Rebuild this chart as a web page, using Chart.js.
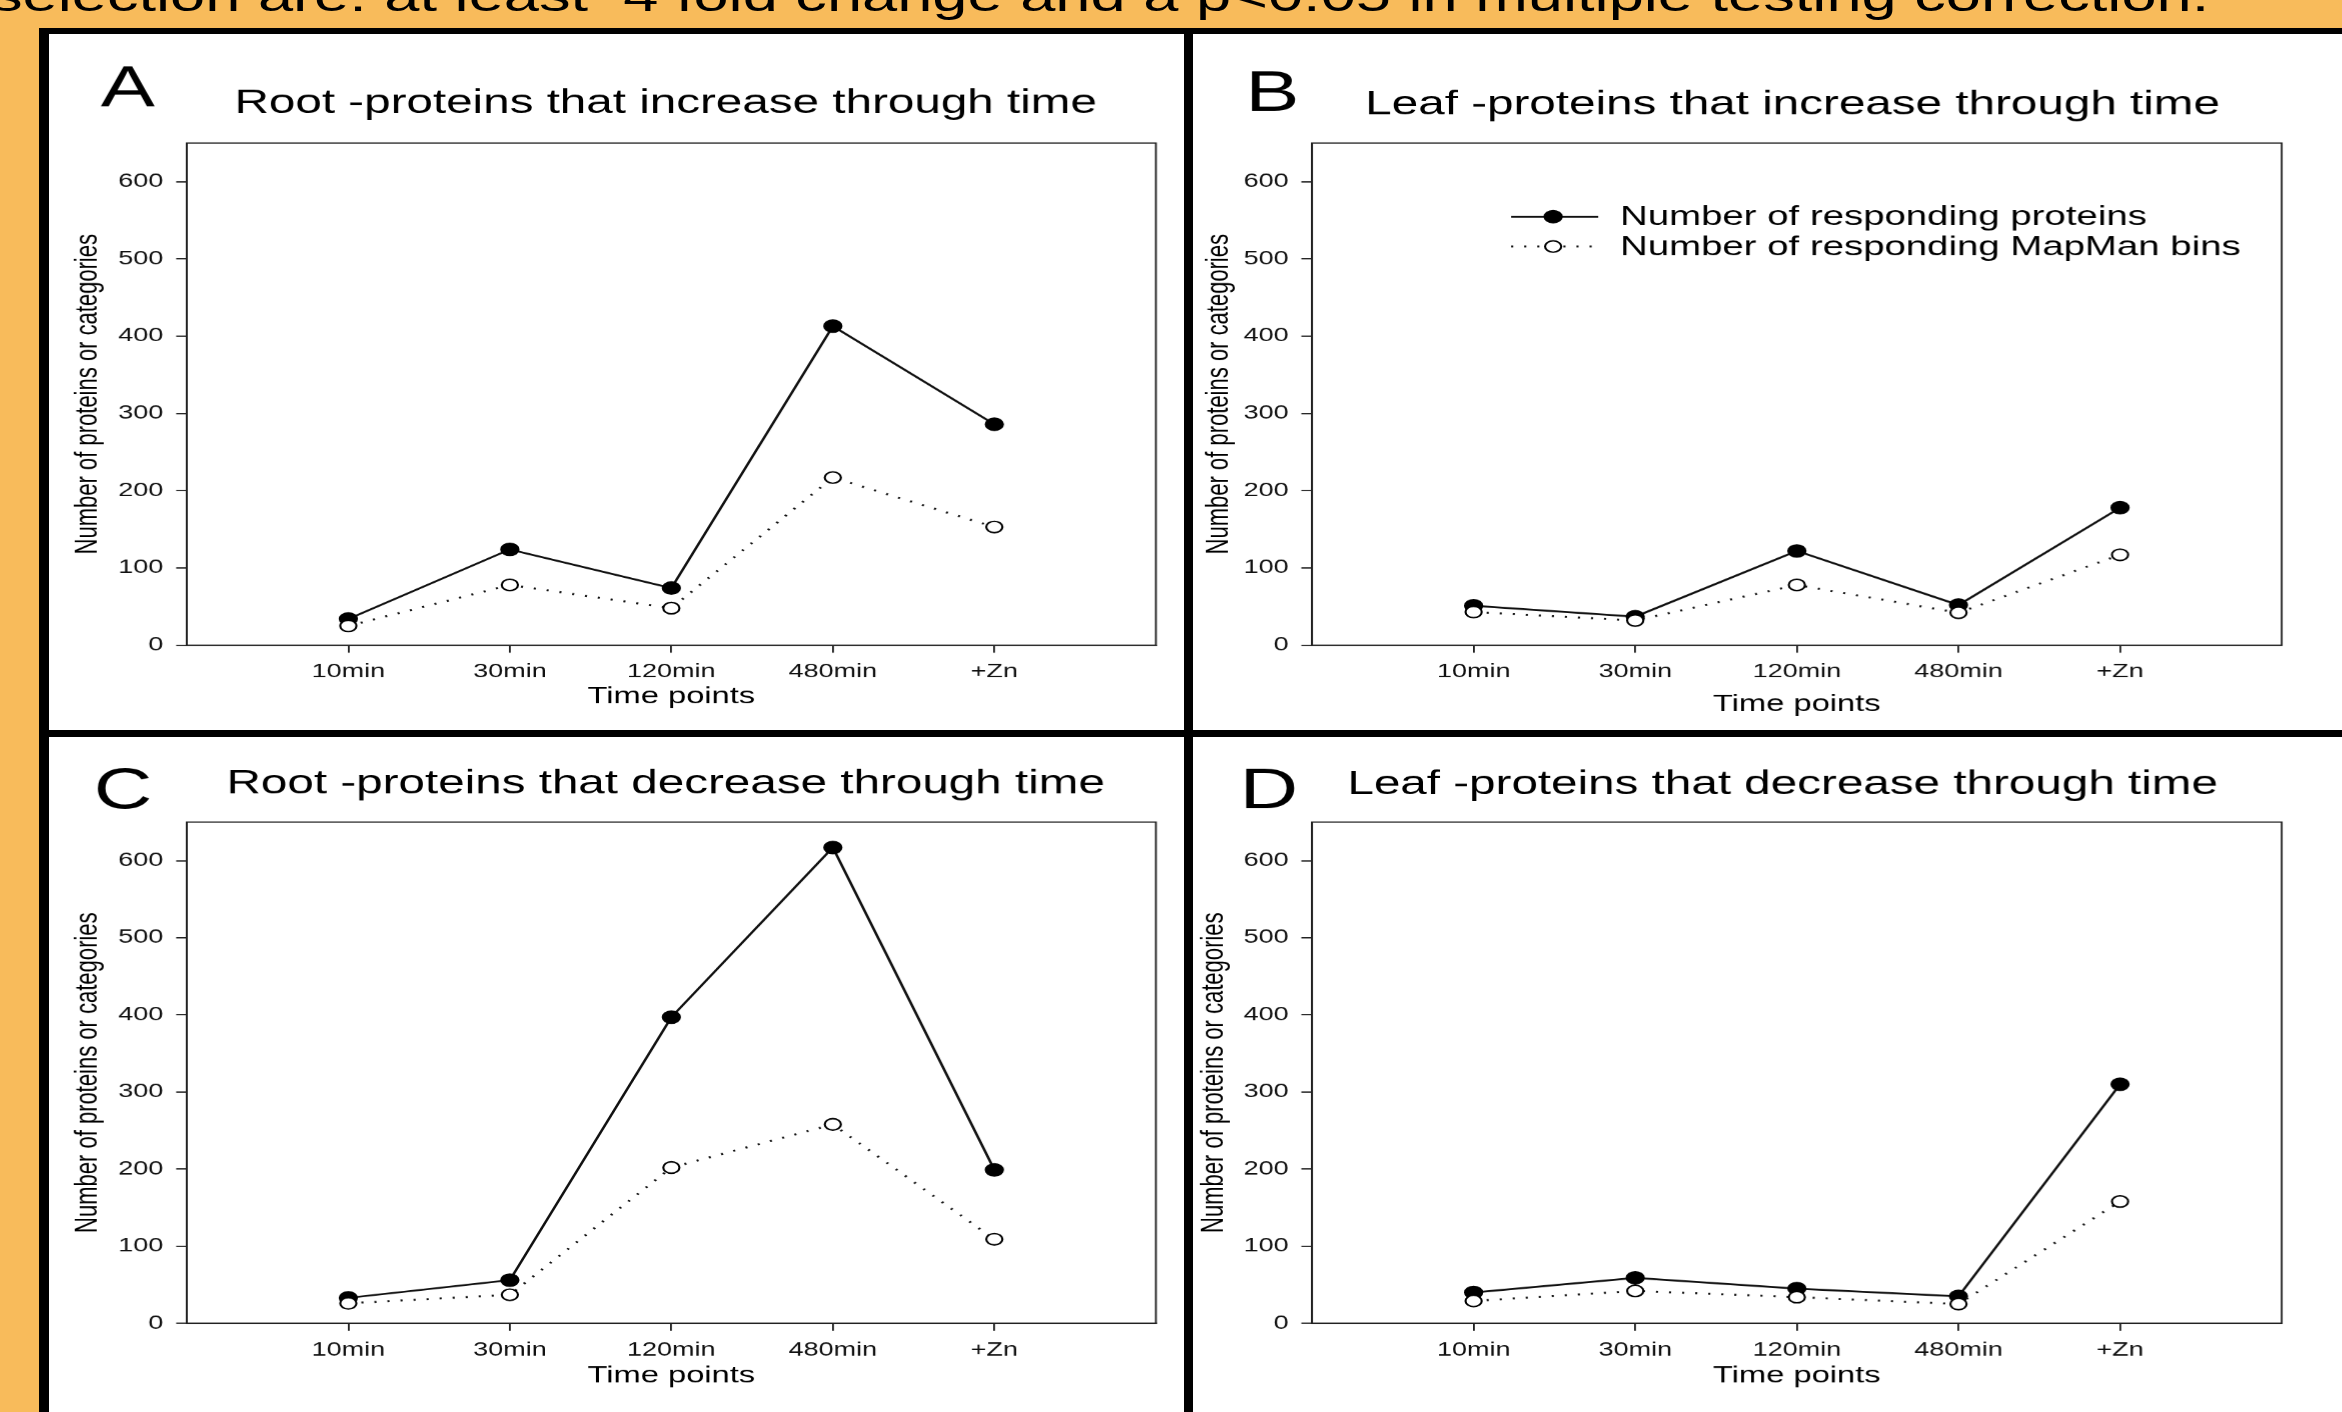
<!DOCTYPE html>
<html>
<head>
<meta charset="utf-8">
<script src="https://cdn.jsdelivr.net/npm/chart.js@4.4.1/dist/chart.umd.min.js"></script>
<style>
  html, body { margin: 0; padding: 0; }
  body {
    width: 2342px; height: 1412px; overflow: hidden; position: relative;
    background: #f8bb5b; font-family: 'Liberation Sans', Arial, sans-serif;
  }
  #frame {
    position: absolute; left: 39px; top: 28px; right: 0; bottom: 0;
    background: #fff; border-top: 6px solid #000; border-left: 10px solid #000;
  }
  .vline { position: absolute; left: 1184px; top: 28px; width: 9px; bottom: 0; background: #000; }
  .hline { position: absolute; left: 39px; top: 730px; right: 0; height: 7px; background: #000; }
  /* the source figure is stretched sideways, so the whole stage is too */
  #stage {
    position: absolute; left: 0; top: 0; width: 1650px; height: 1412px;
    transform-origin: 0 0; transform: scaleX(1.42);
  }
  #toptext {
    position: absolute; top: -26px; font-size: 44.5px; line-height: 44.5px;
    white-space: nowrap; color: #000;
  }
  .panel { position: absolute; }
</style>
</head>
<body>
<div id="frame"></div>
<div class="vline"></div>
<div class="hline"></div>
<div id="stage">
  <div id="toptext">selection are: at least&nbsp; 4 fold change and a p&lt;0.05 in multiple testing correction.</div>
  <div class="panel" style="left:34.5px; top:34px;"><canvas id="chartA" width="799" height="696"></canvas></div>
  <div class="panel" style="left:840px; top:34px;"><canvas id="chartB" width="809" height="696"></canvas></div>
  <div class="panel" style="left:34.5px; top:737px;"><canvas id="chartC" width="799" height="675"></canvas></div>
  <div class="panel" style="left:840px; top:737px;"><canvas id="chartD" width="809" height="675"></canvas></div>
</div>
<script>
const STRETCH = 1.42;
const FONT = "'Liberation Sans', Arial, sans-serif";

// data
const timePoints = ['10min', '30min', '120min', '480min', '+Zn'];
const yTickValues = [0, 100, 200, 300, 400, 500, 600];
const seriesNames = ['Number of responding proteins', 'Number of responding MapMan bins'];

const rootUpProteins = [34, 124, 74, 413, 286];
const rootUpBins = [25, 78, 48, 217, 153];
const leafUpProteins = [51, 37, 122, 52, 178];
const leafUpBins = [43, 32, 78, 42, 117];
const rootDownProteins = [33, 56, 397, 617, 199];
const rootDownBins = [26, 37, 202, 258, 109];
const leafDownProteins = [40, 59, 45, 35, 310];
const leafDownBins = [29, 42, 34, 25, 158];

// put the cut-off caption so it ends where the original does
const topText = document.getElementById('toptext');
topText.style.left = (2209 / STRETCH - topText.offsetWidth) + 'px';

const panels = [
  { id: 'chartA', letter: 'A', title: 'Root -proteins that increase through time',
    proteins: rootUpProteins, bins: rootUpBins,
    area: { top: 109, left: 96.5, right: 20.4, bottom: 85 },
    letterX: 36, letterY: 72, titleDx: -4, titleY: 79, yPad: 13.6, xPad: 19.7, legend: false },
  { id: 'chartB', letter: 'B', title: 'Leaf -proteins that increase through time',
    proteins: leafUpProteins, bins: leafUpBins,
    area: { top: 109, left: 83.9, right: 42.7, bottom: 85 },
    letterX: 37, letterY: 77, titleDx: -3, titleY: 80, yPad: 5.2, xPad: 11.7, legend: true },
  { id: 'chartC', letter: 'C', title: 'Root -proteins that decrease through time',
    proteins: rootDownProteins, bins: rootDownBins,
    area: { top: 85, left: 96.5, right: 20.4, bottom: 89 },
    letterX: 31, letterY: 71, titleDx: -4, titleY: 56, yPad: 13.6, xPad: 22.2, legend: false },
  { id: 'chartD', letter: 'D', title: 'Leaf -proteins that decrease through time',
    proteins: leafDownProteins, bins: leafDownBins,
    area: { top: 85, left: 83.9, right: 42.7, bottom: 89 },
    letterX: 33, letterY: 71, titleDx: -10, titleY: 57, yPad: 1.6, xPad: 22.2, legend: false }
];

// box round the plot, panel letter, title and the legend in panel B
const panelDecor = {
  id: 'panelDecor',
  afterDraw(chart, args, o) {
    const ctx = chart.ctx;
    const ca = chart.chartArea;
    ctx.save();
    ctx.strokeStyle = '#222';
    ctx.lineWidth = 1.3;
    ctx.strokeRect(ca.left, ca.top, ca.right - ca.left, ca.bottom - ca.top);

    ctx.fillStyle = '#000';
    ctx.textBaseline = 'alphabetic';
    ctx.textAlign = 'left';
    ctx.font = '57px ' + FONT;
    ctx.fillText(o.letter, o.letterX, o.letterY);
    ctx.textAlign = 'center';
    ctx.font = '33.5px ' + FONT;
    ctx.fillText(o.title, (ca.left + ca.right) / 2 + o.titleDx, o.titleY);

    if (o.legend) {
      const x1 = 224, x2 = 285.3, xc = 253.6, xt = 300.7;
      chart.data.datasets.forEach((ds, i) => {
        const y = 182.6 + i * 29.8;
        ctx.setLineDash(ds.borderDash || []);
        ctx.lineWidth = ds.borderWidth;
        ctx.strokeStyle = ds.borderColor;
        ctx.beginPath();
        ctx.moveTo(x1, y);
        ctx.lineTo(x2, y);
        ctx.stroke();
        ctx.setLineDash([]);
        ctx.beginPath();
        ctx.arc(xc, y, ds.pointRadius, 0, Math.PI * 2);
        ctx.fillStyle = ds.pointBackgroundColor;
        ctx.fill();
        ctx.lineWidth = ds.pointBorderWidth;
        ctx.strokeStyle = ds.pointBorderColor;
        ctx.stroke();
        ctx.fillStyle = '#000';
        ctx.textAlign = 'left';
        ctx.textBaseline = 'middle';
        ctx.font = '27px ' + FONT;
        ctx.fillText(ds.label, xt, y + 1);
      });
    }
    ctx.restore();
  }
};

Chart.defaults.font.family = FONT;

panels.forEach(p => {
  const axisLine = { display: true, color: '#222', width: 1.3 };
  const tickGrid = { drawOnChartArea: false, drawTicks: true, tickLength: 7.5, color: '#222', lineWidth: 1.3 };

  new Chart(document.getElementById(p.id), {
    type: 'line',
    data: {
      datasets: [
        {
          label: seriesNames[0],
          data: p.proteins.map((v, i) => ({ x: i + 1, y: v })),
          borderColor: '#111', borderWidth: 1.9,
          pointRadius: 6.2, pointBackgroundColor: '#000', pointBorderColor: '#000', pointBorderWidth: 1.2,
          order: 2
        },
        {
          label: seriesNames[1],
          data: p.bins.map((v, i) => ({ x: i + 1, y: v })),
          borderColor: '#111', borderWidth: 2, borderDash: [1.5, 7.7],
          pointRadius: 5.7, pointBackgroundColor: '#fff', pointBorderColor: '#000', pointBorderWidth: 1.5,
          order: 1
        }
      ]
    },
    options: {
      responsive: false,
      animation: false,
      devicePixelRatio: STRETCH,
      layout: { padding: { left: 0, top: p.area.top, right: p.area.right, bottom: 0 } },
      plugins: {
        legend: { display: false },
        tooltip: { enabled: false },
        panelDecor: p
      },
      scales: {
        x: {
          type: 'linear', min: 0, max: 6,
          afterBuildTicks: s => { s.ticks = timePoints.map((t, i) => ({ value: i + 1 })); },
          afterFit: s => { s.height = p.area.bottom; },
          ticks: {
            callback: v => timePoints[v - 1],
            font: { size: 19 }, color: '#111', padding: 8, maxRotation: 0, autoSkip: false
          },
          grid: tickGrid,
          border: axisLine,
          title: { display: true, text: 'Time points', color: '#000', font: { size: 23 },
                   padding: { top: 0, bottom: p.xPad } }
        },
        y: {
          min: 0, max: 650,
          afterBuildTicks: s => { s.ticks = yTickValues.map(v => ({ value: v })); },
          afterFit: s => { s.width = p.area.left; },
          ticks: { font: { size: 19 }, color: '#111', padding: 9 },
          grid: tickGrid,
          border: axisLine,
          title: { display: true, text: 'Number of proteins or categories', color: '#000', font: { size: 22 },
                   padding: { top: p.yPad, bottom: 0 } }
        }
      }
    },
    plugins: [panelDecor]
  });
});
</script>
</body>
</html>
